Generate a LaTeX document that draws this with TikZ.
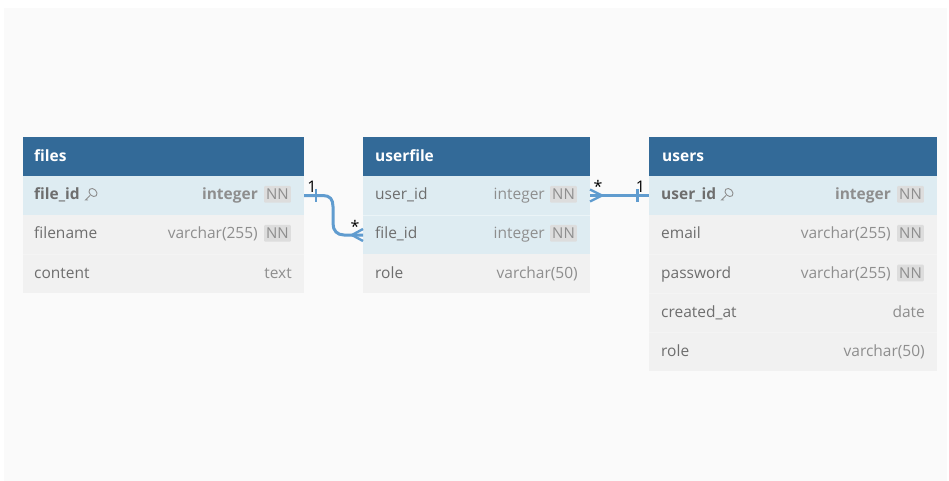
\documentclass[tikz,border=0pt]{standalone}
\usepackage{fontspec}
\setmainfont{Open Sans}
\definecolor{panel}{HTML}{FAFAFA}
\definecolor{hdr}{HTML}{336A98}
\definecolor{rowhi}{HTML}{DEECF2}
\definecolor{rowpl}{HTML}{F1F1F1}
\definecolor{rowline}{HTML}{F4F4F4}
\definecolor{txt}{HTML}{6E6E6E}
\definecolor{typ}{HTML}{8E8E8E}
\definecolor{nnbg}{HTML}{DDDDDD}
\definecolor{conn}{HTML}{609CCF}
\tikzset{
 x=1pt,y=-1pt,
 hdrbox/.style={fill=hdr,draw=none},
 hirow/.style={fill=rowhi,draw=none},
 plrow/.style={fill=rowpl,draw=none},
 hdrtext/.style={anchor=base west,inner sep=0pt,text=white,font=\fontsize{15.5}{17}\selectfont\bfseries},
 coltext/.style={anchor=base west,inner sep=0pt,text=txt,font=\fontsize{15.5}{17}\selectfont},
 pktext/.style={coltext,font=\fontsize{15.5}{17}\selectfont\bfseries},
 typtext/.style={anchor=base east,inner sep=0pt,text=typ,font=\fontsize{15.5}{17}\selectfont},
 pktyp/.style={typtext,font=\fontsize{15.5}{17}\selectfont\bfseries},
 nntag/.style={anchor=base east,fill=nnbg,text=typ,rounded corners=1pt,inner xsep=2pt,inner ysep=3pt,font=\fontsize{15}{17}\selectfont},
 card/.style={anchor=base,inner sep=0pt,text=black,font=\fontsize{16}{17}\selectfont},
 rel/.style={draw=conn,line width=3pt,line join=round},
 relthin/.style={draw=conn,line width=2.4pt},
 keyicon/.style={draw=typ,line width=0.9pt},
}
\newcommand{\keyat}[2]{%
 \draw[keyicon,rotate around={-45:(#1,#2)}] (#1,#2) ellipse [x radius=4.6,y radius=3.4];
 \draw[keyicon] (#1-3,#2+3) -- (#1-7.5,#2+7.5) -- (#1-5,#2+7.5);
}
\begin{document}
\begin{tikzpicture}
\useasboundingbox (0,0) rectangle (949,481);
\fill[white] (0,0) rectangle (949,481);
\fill[panel] (4,8) rectangle (947,481);
% files
\fill[hdrbox] (23,137) rectangle (304,176);
\fill[hirow] (23,176) rectangle (304,215);
\fill[plrow] (23,215) rectangle (304,293);
\draw[rowline,line width=.5pt] (23,254.5) -- (304,254.5);
\node[hdrtext] (fT) at (34,161) {files};
\node[pktext] (f1) at (34,199.7) {file\_id};
\keyat{93}{192.5}
\node[nntag] (f1n) at (291,199.7) {NN};
\node[pktyp] (f1t) at (258,199.7) {integer};
\node[coltext] (f2) at (34,238.7) {filename};
\node[nntag] (f2n) at (291,238.7) {NN};
\node[typtext] (f2t) at (258,238.7) {varchar(255)};
\node[coltext] (f3) at (34,278.4) {content};
\node[typtext] (f3t) at (292,278.4) {text};
% userfile
\fill[hdrbox] (363,137) rectangle (590,176);
\fill[hirow] (363,176) rectangle (590,254);
\fill[plrow] (363,254) rectangle (590,293);
\draw[rowhi!60!white,line width=.4pt] (363,215) -- (590,215);
\node[hdrtext] (uT) at (375,161) {userfile};
\node[coltext] (u1) at (375,199.7) {user\_id};
\node[nntag] (u1n) at (577,199.7) {NN};
\node[typtext] (u1t) at (545,199.7) {integer};
\node[coltext] (u2) at (375,238.7) {file\_id};
\node[nntag] (u2n) at (577,238.7) {NN};
\node[typtext] (u2t) at (545,238.7) {integer};
\node[coltext] (u3) at (375,278.4) {role};
\node[typtext] (u3t) at (578,278.4) {varchar(50)};
% users
\fill[hdrbox] (649,137) rectangle (937,176);
\fill[hirow] (649,176) rectangle (937,215);
\fill[plrow] (649,215) rectangle (937,371);
\foreach \yy in {254.5,293.5,332.5} \draw[rowline,line width=.5pt] (649,\yy) -- (937,\yy);
\node[hdrtext] (sT) at (662,161) {users};
\node[pktext] (s1) at (661,199.7) {user\_id};
\keyat{729}{192.5}
\node[nntag] (s1n) at (924,199.7) {NN};
\node[pktyp] (s1t) at (891,199.7) {integer};
\node[coltext] (s2) at (661,238.7) {email};
\node[nntag] (s2n) at (924,238.7) {NN};
\node[typtext] (s2t) at (891,238.7) {varchar(255)};
\node[coltext] (s3) at (661,278.4) {password};
\node[nntag] (s3n) at (924,278.4) {NN};
\node[typtext] (s3t) at (891,278.4) {varchar(255)};
\node[coltext] (s4) at (661,317.4) {created\_at};
\node[typtext] (s4t) at (925,317.4) {date};
\node[coltext] (s5) at (661,356.4) {role};
\node[typtext] (s5t) at (925,356.4) {varchar(50)};
% connector anchors
\coordinate (a1) at (304,195.5);
\coordinate (a2) at (363,235);
\coordinate (b1) at (590,195.5);
\coordinate (b2) at (649,195.5);
% connector files-userfile
\draw[rel] (a1) -- (323,195.5) .. controls (330,195.5) and (333,199.5) .. (333,206.5) -- (333,223.5) .. controls (333,230.5) and (337,235) .. (344,235) -- (a2);
\draw[relthin] (316,188.5) -- (316,202);
\draw[relthin] (352,235) -- (363,241);
\draw[relthin] (352,235) -- (363,229);
\node[card] (c1) at (312,193) {1};
\node[card] (c2) at (355,232) {*};
% connector userfile-users
\draw[rel] (b1) -- (b2);
\draw[relthin] (637.5,189) -- (637.5,202);
\draw[relthin] (602,195.5) -- (590,189.5);
\draw[relthin] (602,195.5) -- (590,201.5);
\node[card] (c3) at (598,193) {*};
\node[card] (c4) at (640.5,193) {1};
\end{tikzpicture}
\end{document}
